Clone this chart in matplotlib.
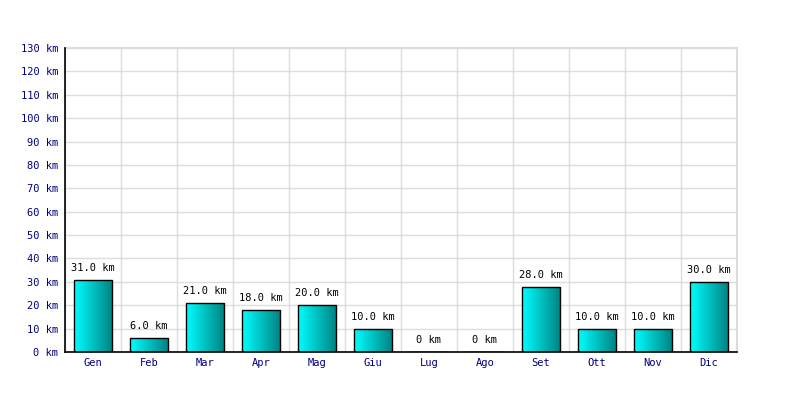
import numpy as np
import matplotlib
matplotlib.use("Agg")
import matplotlib.pyplot as plt
from matplotlib.colors import LinearSegmentedColormap

# dati mensili (km)
mesi = ["Gen", "Feb", "Mar", "Apr", "Mag", "Giu", "Lug", "Ago", "Set", "Ott", "Nov", "Dic"]
km = [31.0, 6.0, 21.0, 18.0, 20.0, 10.0, 0.0, 0.0, 28.0, 10.0, 10.0, 30.0]
etichette = ["31.0 km", "6.0 km", "21.0 km", "18.0 km", "20.0 km", "10.0 km",
             "0 km", "0 km", "28.0 km", "10.0 km", "10.0 km", "30.0 km"]
y_ticks = list(range(0, 140, 10))

plt.rcParams["font.family"] = "DejaVu Sans Mono"

fig = plt.figure(figsize=(8, 4), dpi=100)
ax = fig.add_axes([65 / 800, 48 / 400, 672 / 800, 304 / 400])

x = np.arange(len(mesi))
larghezza = 0.68
cmap = LinearSegmentedColormap.from_list("ciano", ["#00ffff", "#008080"])
grad = np.linspace(0, 1, 256).reshape(1, -1)

bars = ax.bar(x, km, width=larghezza, facecolor="none", edgecolor="black",
              linewidth=1.0, zorder=3)
for b in bars:
    if b.get_height() <= 0:
        continue
    x0, y0 = b.get_x(), b.get_y()
    im = ax.imshow(grad, cmap=cmap, aspect="auto", zorder=2,
                   extent=(x0, x0 + b.get_width(), y0, y0 + b.get_height()))
    im.set_clip_path(b)

for xi, v, lab in zip(x, km, etichette):
    ax.annotate(lab, (xi, v), xytext=(0, 5), textcoords="offset points",
                ha="center", va="bottom", fontsize=7.5, color="black")

ax.set_xlim(-0.5, len(mesi) - 0.5)
ax.set_ylim(0, 130)
ax.set_yticks(y_ticks)
ax.set_yticklabels([f"{t} km" for t in y_ticks])
ax.set_xticks(x)
ax.set_xticklabels(mesi)
ax.set_xticks(np.arange(-0.5, len(mesi)), minor=True)
ax.tick_params(axis="both", which="both", length=0, labelsize=7.5,
               labelcolor="#000080")
ax.tick_params(axis="x", pad=4)
ax.tick_params(axis="y", pad=5)

ax.grid(True, which="minor", axis="x", color="#dddddd", linewidth=1, zorder=0)
ax.grid(True, which="major", axis="y", color="#dddddd", linewidth=1, zorder=0)
ax.axvline(len(mesi) - 0.5, color="#dddddd", linewidth=1.5, zorder=0, clip_on=False)
ax.axhline(130, color="#dddddd", linewidth=1.5, zorder=0, clip_on=False)
ax.set_axisbelow(True)
for s in ["top", "right"]:
    ax.spines[s].set_visible(False)
ax.spines["left"].set_linewidth(1.2)
ax.spines["bottom"].set_linewidth(1.2)

fig.savefig("out.png", dpi=100)
